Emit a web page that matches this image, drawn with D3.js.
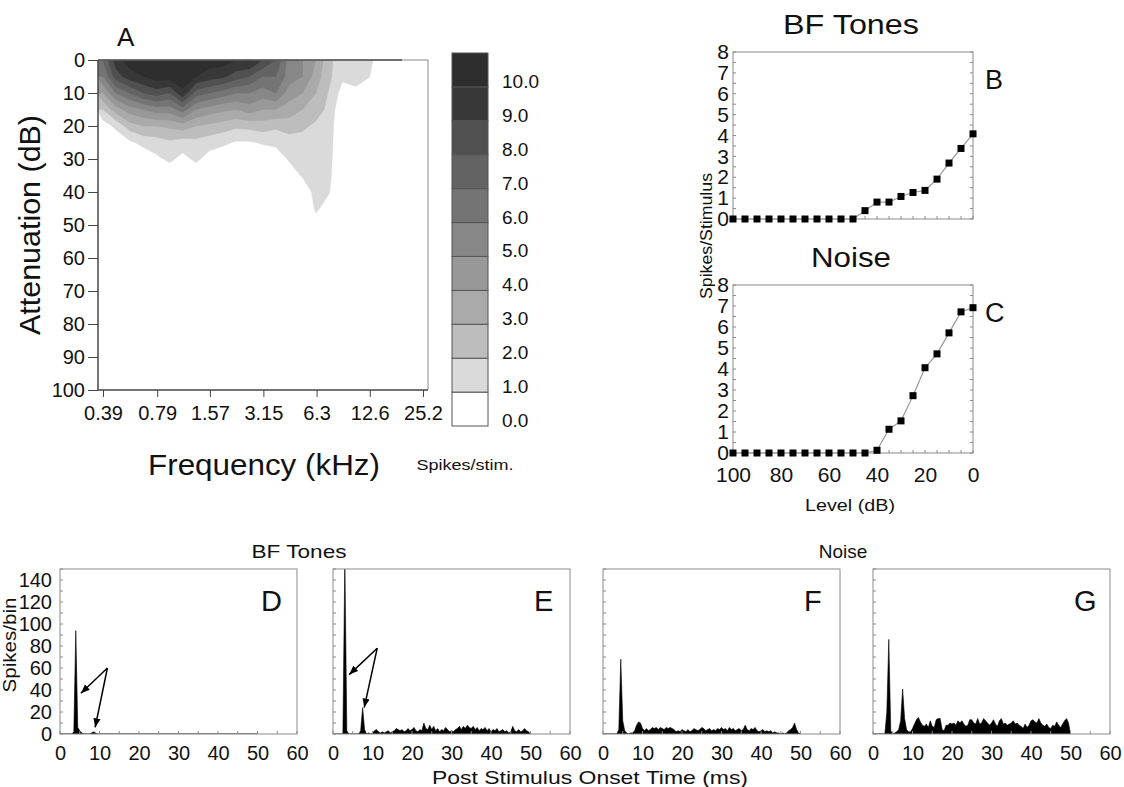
<!DOCTYPE html>
<html>
<head>
<meta charset="utf-8">
<script src="https://cdn.jsdelivr.net/npm/d3@7"></script>
<style>
  body { margin: 0; background: #fff; }
  svg { font-family: 'Liberation Sans', Arial, Helvetica, sans-serif; }
</style>
</head>
<body>
<svg id="fig" width="1124" height="787"></svg>
<script>
// ---------- data: panel A (response area) ----------
const freqTicks = [0.39, 0.79, 1.57, 3.15, 6.3, 12.6, 25.2];
const attenTicks = [0, 10, 20, 30, 40, 50, 60, 70, 80, 90, 100];
const gridFreqs = [0.39, 0.46, 0.55, 0.66, 0.78, 0.93, 1.10, 1.31, 1.56, 1.86, 2.21, 2.62,
                   3.12, 3.71, 4.41, 5.25, 6.24, 7.42, 8.82, 10.5, 12.5, 14.8, 17.6, 21.0];
const gridAttens = [0, 5, 10, 15, 20, 25, 30, 35, 40, 45, 50, 55, 60];
// spikes/stim for each frequency column, read down the attenuation rows
const spikeGrid = [
  [7, 6, 4, 2, 0.5, 0, 0, 0, 0, 0, 0, 0, 0],
  [9.5, 8.5, 6, 3.5, 1.2, 0.3, 0, 0, 0, 0, 0, 0, 0],
  [10.5, 9.5, 7, 4.5, 2.5, 0.8, 0, 0, 0, 0, 0, 0, 0],
  [11, 10, 8, 5, 3, 1.3, 0.3, 0, 0, 0, 0, 0, 0],
  [11, 10.5, 8.5, 5.5, 3, 1.5, 0.8, 0, 0, 0, 0, 0, 0],
  [11, 10.5, 8, 5.5, 3.2, 1.8, 1.2, 0.3, 0, 0, 0, 0, 0],
  [11, 10.5, 9.8, 6.5, 3.5, 1.5, 0.7, 0, 0, 0, 0, 0, 0],
  [11, 10, 7.5, 5, 3, 1.7, 1.2, 0.3, 0, 0, 0, 0, 0],
  [10.5, 9.5, 7, 4.5, 2.8, 1.4, 0.6, 0, 0, 0, 0, 0, 0],
  [10.5, 9.2, 6.5, 4.2, 2.5, 1.2, 0.3, 0, 0, 0, 0, 0, 0],
  [10, 8.5, 6, 4, 2.2, 0.9, 0.2, 0, 0, 0, 0, 0, 0],
  [10.2, 8, 6, 4.5, 2.3, 0.9, 0.2, 0, 0, 0, 0, 0, 0],
  [9, 7, 5.5, 4, 2.5, 1.1, 0.3, 0, 0, 0, 0, 0, 0],
  [8, 7, 6, 4, 2.2, 1.2, 0.5, 0, 0, 0, 0, 0, 0],
  [5.5, 5.5, 4.5, 3.5, 2.5, 1.5, 1.1, 0.5, 0, 0, 0, 0, 0],
  [5, 5, 4, 3, 2.2, 1.6, 1.4, 1.1, 0.4, 0, 0, 0, 0],
  [4, 3.5, 3, 2.5, 1.8, 1.5, 1.5, 1.4, 1.3, 1.15, 0.6, 0, 0],
  [2.2, 2.2, 1.9, 1.7, 1.5, 1.4, 1.3, 1.2, 1.05, 0.6, 0, 0, 0],
  [1.5, 1.2, 0.6, 0.1, 0, 0, 0, 0, 0, 0, 0, 0, 0],
  [1.6, 1.3, 0.8, 0.1, 0, 0, 0, 0, 0, 0, 0, 0, 0],
  [1.3, 1.05, 0.3, 0, 0, 0, 0, 0, 0, 0, 0, 0, 0],
  [0.3, 0, 0, 0, 0, 0, 0, 0, 0, 0, 0, 0, 0],
  [0, 0, 0, 0, 0, 0, 0, 0, 0, 0, 0, 0, 0],
  [0, 0, 0, 0, 0, 0, 0, 0, 0, 0, 0, 0, 0]
];
const colorLevels = [0, 1, 2, 3, 4, 5, 6, 7, 8, 9, 10];
const levelColors = ['#ffffff', '#dadada', '#bdbdbd', '#aaaaaa', '#989898', '#878787',
                     '#747474', '#636363', '#505050', '#383838', '#2e2e2e'];

// ---------- data: panels B and C (rate-level) ----------
const levels = [100, 95, 90, 85, 80, 75, 70, 65, 60, 55, 50, 45, 40, 35, 30, 25, 20, 15, 10, 5, 0];
const bfRate = [0, 0, 0, 0, 0, 0, 0, 0, 0, 0, 0, 0.4, 0.81, 0.81, 1.08, 1.27, 1.37, 1.91, 2.68, 3.38, 4.08];
const noiseRate = [0, 0, 0, 0, 0, 0, 0, 0, 0, 0, 0, 0, 0.13, 1.13, 1.53, 2.73, 4.06, 4.72, 5.72, 6.72, 6.92];

// ---------- data: panels D-G (PSTHs, 0.5 ms bins from 0 to 50 ms) ----------
const binWidth = 0.5;
const psthD = [0,0,0,0,0,0,0,2,94,6,3,1,0,0,0,0,1,2,1,0,
  0,0,0,0,0,0,0,0,0,0,0,0,0,0,0,0,0,0,0,0,
  0,0,0,0,0,0,0,0,0,0,0,0,0,0,0,0,0,0,0,0,
  0,0,0,0,0,0,0,0,0,0,0,0,0,0,0,0,0,0,0,0,
  0,0,0,0,0,0,0,0,0,0,0,0,0,0,0,0,0,0,0,0,0];
const psthE = [0,0,0,0,0,0,160,3,0,0,0,0,0,0,3,24,4,0,1,0,
  1,3,4,2,1,2,1,2,3,1,2,3,5,4,3,4,2,3,5,3,
  4,6,3,2,4,3,10,5,4,8,4,7,3,5,2,4,3,6,4,2,
  3,2,4,5,7,4,7,5,8,6,5,7,4,6,3,5,4,6,3,5,
  2,4,3,5,2,3,4,2,3,1,2,7,3,2,4,2,3,5,3,2,0];
const psthF = [0,0,0,0,0,0,0,0,4,68,12,3,1,0,1,1,3,8,11,10,
  5,3,5,3,4,6,5,6,4,6,5,4,6,5,6,5,4,2,3,2,
  4,3,2,4,2,3,5,4,3,4,6,5,3,4,5,3,4,3,5,4,
  6,4,5,3,6,4,5,3,4,5,3,4,8,4,3,5,4,6,3,2,
  3,4,2,3,2,3,1,2,1,1,0,1,0,1,3,4,6,10,4,1,0];
const psthG = [0,0,0,0,0,0,0,20,86,3,0,1,2,4,12,41,14,4,2,2,
  5,9,13,15,11,8,7,9,6,12,7,6,13,14,14,4,3,8,8,10,
  9,10,8,12,10,12,9,7,8,13,13,10,9,14,9,10,14,12,10,8,
  10,13,9,7,12,14,9,10,8,9,10,12,9,10,8,7,5,9,6,8,
  12,13,11,10,14,10,8,7,9,6,5,8,7,11,8,6,9,12,14,10,0];
// arrows: [fromTime, fromCount, toTime, toCount]
const arrowsD = [[12, 60, 5.3, 37], [12, 60, 8.9, 6]];
const arrowsE = [[11.2, 78, 4.1, 54], [11.2, 78, 7.9, 24]];

// ---------- drawing ----------
const svg = d3.select('#fig');
const font = "'Liberation Sans', Arial, Helvetica, sans-serif";
const defs = svg.append('defs');

defs.append('marker')
    .attr('id', 'arrow')
    .attr('viewBox', '0 0 10 10')
    .attr('refX', 10)
    .attr('refY', 5)
    .attr('markerWidth', 9)
    .attr('markerHeight', 9)
    .attr('markerUnits', 'userSpaceOnUse')
    .attr('orient', 'auto')
  .append('path')
    .attr('d', 'M0,1L10,5L0,9Z')
    .attr('fill', '#000');

function label(x, y, txt, size, opts = {}) {
  let t = svg.append('text')
      .attr('x', x)
      .attr('y', y)
      .attr('font-size', size)
      .attr('text-anchor', opts.anchor || 'middle')
      .attr('fill', '#111')
      .text(txt);
  if (opts.len) t.attr('textLength', opts.len).attr('lengthAdjust', 'spacingAndGlyphs');
  if (opts.rotate) t.attr('transform', `rotate(-90,${x},${y})`);
  return t;
}

// ----- Panel A -----
const A = {left: 98, right: 428, top: 60, bottom: 390};
const xA = d3.scaleLog().domain([0.39, 25.2]).range([103, 423]);
const yA = d3.scaleLinear().domain([0, 100]).range([A.top, A.bottom]);

defs.append('clipPath').attr('id', 'clipA').append('rect')
    .attr('x', A.left).attr('y', A.top)
    .attr('width', A.right - A.left).attr('height', A.bottom - A.top);

const nF = gridFreqs.length, nL = gridAttens.length;
const gridValues = [];
for (let j = 0; j < nL; j++)
  for (let i = 0; i < nF; i++) gridValues.push(spikeGrid[i][j]);

const colX = d3.scaleLinear().domain(d3.range(nF)).range(gridFreqs.map(f => xA(f)));
const rowY = d3.scaleLinear().domain(d3.range(nL)).range(gridAttens.map(a => yA(a)));
const contourPath = d3.geoPath(d3.geoTransform({
  point(x, y) { this.stream.point(colX(x - 0.5), rowY(y - 0.5)); }
}));
const bands = d3.contours().size([nF, nL]).thresholds(colorLevels.slice(1))(gridValues);

svg.append('g')
    .attr('clip-path', 'url(#clipA)')
  .selectAll('path')
  .data(bands)
  .join('path')
    .attr('d', contourPath)
    .attr('fill', d => levelColors[d.value])
    .attr('stroke', d => levelColors[d.value])
    .attr('stroke-width', 0.4);

// frame: dark top, light right, dark axes on left/bottom
svg.append('path')
    .attr('d', `M${A.left},${A.top}H${A.right}V${A.bottom}`)
    .attr('fill', 'none').attr('stroke', '#888').attr('stroke-width', 1);
svg.append('line')
    .attr('x1', A.left).attr('x2', 402).attr('y1', A.top).attr('y2', A.top)
    .attr('stroke', '#555').attr('stroke-width', 1.5);

let axA = svg.append('g')
    .attr('transform', `translate(${A.left},0)`)
    .call(d3.axisLeft(yA).tickValues(attenTicks).tickSize(10).tickPadding(3))
    .attr('font-family', font).attr('font-size', 20);
axA.select('.domain').remove();
axA.append('line').attr('y1', A.top).attr('y2', A.bottom).attr('stroke', '#444').attr('stroke-width', 1.5);
axA.selectAll('.tick line').attr('stroke', '#444');
axA.selectAll('.tick text').attr('fill', '#111');

let axAb = svg.append('g')
    .attr('transform', `translate(0,${A.bottom})`)
    .call(d3.axisBottom(xA).tickValues(freqTicks).tickFormat(d => d).tickSize(7).tickPadding(9))
    .attr('font-family', font).attr('font-size', 20);
axAb.select('.domain').remove();
axAb.append('line').attr('x1', A.left).attr('x2', A.right).attr('stroke', '#444').attr('stroke-width', 1.5);
axAb.selectAll('.tick line').attr('stroke', '#444');
axAb.selectAll('.tick text').attr('fill', '#111');

label(117, 46, 'A', 26, {anchor: 'start'});
label(40, 225, 'Attenuation (dB)', 30, {rotate: true, len: 220});
label(264, 475, 'Frequency (kHz)', 29, {len: 232});

// colour bar
const cb = {left: 452, right: 488, top: 53, bottom: 426};
const yCB = d3.scaleLinear().domain([0, 11]).range([cb.bottom, cb.top]);
svg.append('g')
  .selectAll('rect')
  .data(colorLevels)
  .join('rect')
    .attr('x', cb.left)
    .attr('y', d => yCB(d + 1))
    .attr('width', cb.right - cb.left)
    .attr('height', d => yCB(d) - yCB(d + 1))
    .attr('fill', d => levelColors[d])
    .attr('stroke', '#555')
    .attr('stroke-width', 1);
svg.append('g')
  .selectAll('text')
  .data(colorLevels)
  .join('text')
    .attr('x', 502)
    .attr('y', d => yCB(d) + 1)
    .attr('font-size', 19)
    .attr('fill', '#111')
    .text(d => d3.format('.1f')(d));
label(465, 470, 'Spikes/stim.', 15, {len: 97});

// ----- Panels B and C -----
const xL = d3.scaleLinear().domain([100, 0]).range([733, 973]);

function ratePanel(rates, top, bottom, title, letter, letterY, showX) {
  const y = d3.scaleLinear().domain([0, 8]).range([bottom, top]);
  const g = svg.append('g');
  g.append('rect')
      .attr('x', xL(100)).attr('y', top)
      .attr('width', xL(0) - xL(100)).attr('height', bottom - top)
      .attr('fill', 'none').attr('stroke', '#8a8a8a').attr('stroke-width', 1);
  // small inward ticks
  const minorY = d3.range(0, 8.01, 0.5);
  g.selectAll('.ml').data(minorY).join('line')
      .attr('x1', xL(100)).attr('x2', xL(100) + 3)
      .attr('y1', d => y(d)).attr('y2', d => y(d))
      .attr('stroke', '#8a8a8a');
  g.selectAll('.mr').data(minorY).join('line')
      .attr('x1', xL(0)).attr('x2', xL(0) - 3)
      .attr('y1', d => y(d)).attr('y2', d => y(d))
      .attr('stroke', '#8a8a8a');
  g.selectAll('.mb').data(levels).join('line')
      .attr('x1', d => xL(d)).attr('x2', d => xL(d))
      .attr('y1', bottom).attr('y2', bottom - 3)
      .attr('stroke', '#8a8a8a');

  const ay = g.append('g')
      .attr('transform', `translate(${xL(100)},0)`)
      .call(d3.axisLeft(y).ticks(8).tickSize(0).tickPadding(4))
      .attr('font-family', font).attr('font-size', 21);
  ay.select('.domain').remove();
  ay.selectAll('.tick text').attr('fill', '#111');

  if (showX) {
    const ax = g.append('g')
        .attr('transform', `translate(0,${bottom})`)
        .call(d3.axisBottom(xL).tickValues([100, 80, 60, 40, 20, 0]).tickSize(0).tickPadding(14))
        .attr('font-family', font).attr('font-size', 21);
    ax.select('.domain').remove();
    ax.selectAll('.tick text').attr('fill', '#111');
  }

  g.append('path')
      .datum(rates)
      .attr('d', d3.line().x((d, i) => xL(levels[i])).y(d => y(d)))
      .attr('fill', 'none')
      .attr('stroke', '#999')
      .attr('stroke-width', 1.2);
  g.selectAll('.pt').data(rates).join('rect')
      .attr('x', (d, i) => xL(levels[i]) - 3.5)
      .attr('y', d => y(d) - 3.5)
      .attr('width', 7).attr('height', 7)
      .attr('fill', '#000');

  label((xL(100) + xL(0)) / 2 - 2, top - 18, title, 27, {len: title === 'Noise' ? 80 : 136});
  label(985, letterY, letter, 27, {anchor: 'start'});
}

ratePanel(bfRate, 52, 219, 'BF Tones', 'B', 89, false);
ratePanel(noiseRate, 285, 453, 'Noise', 'C', 322, true);
label(850, 511, 'Level (dB)', 17, {len: 90});
label(712, 236, 'Spikes/Stimulus', 16, {rotate: true, len: 126});

// ----- Panels D-G -----
const P = {top: 569, bottom: 734, width: 237};
const yP = d3.scaleLinear().domain([0, 150]).range([P.bottom, P.top]);
const psthPanels = [
  {left: 60, counts: psthD, letter: 'D', arrows: arrowsD, yLabels: true},
  {left: 333, counts: psthE, letter: 'E', arrows: arrowsE, yLabels: false},
  {left: 603, counts: psthF, letter: 'F', arrows: [], yLabels: false},
  {left: 873, counts: psthG, letter: 'G', arrows: [], yLabels: false}
];

psthPanels.forEach((p, k) => {
  const x = d3.scaleLinear().domain([0, 60]).range([p.left, p.left + P.width]);
  const g = svg.append('g');
  const clipId = 'clipP' + k;
  defs.append('clipPath').attr('id', clipId).append('rect')
      .attr('x', p.left).attr('y', P.top)
      .attr('width', P.width).attr('height', P.bottom - P.top);

  g.append('path')
      .datum(p.counts)
      .attr('clip-path', `url(#${clipId})`)
      .attr('d', d3.area()
          .x((d, i) => x(i * binWidth))
          .y0(yP(0))
          .y1(d => yP(d)))
      .attr('fill', '#000')
      .attr('stroke', '#000')
      .attr('stroke-width', 0.6);

  g.append('rect')
      .attr('x', p.left).attr('y', P.top)
      .attr('width', P.width).attr('height', P.bottom - P.top)
      .attr('fill', 'none').attr('stroke', '#8a8a8a').attr('stroke-width', 1);
  g.selectAll('.ml').data(d3.range(0, 151, 10)).join('line')
      .attr('x1', p.left).attr('x2', p.left + 3)
      .attr('y1', d => yP(d)).attr('y2', d => yP(d))
      .attr('stroke', '#8a8a8a');
  g.selectAll('.mb').data(d3.range(0, 61, 5)).join('line')
      .attr('x1', d => x(d)).attr('x2', d => x(d))
      .attr('y1', P.bottom).attr('y2', P.bottom - 3)
      .attr('stroke', '#8a8a8a');

  if (p.yLabels) {
    const ay = g.append('g')
        .attr('transform', `translate(${p.left},0)`)
        .call(d3.axisLeft(yP).tickValues(d3.range(0, 141, 20)).tickSize(0).tickPadding(8))
        .attr('font-family', font).attr('font-size', 20);
    ay.select('.domain').remove();
    ay.selectAll('.tick text').attr('fill', '#111');
  }
  const ax = g.append('g')
      .attr('transform', `translate(0,${P.bottom})`)
      .call(d3.axisBottom(x).tickValues([0, 10, 20, 30, 40, 50, 60]).tickSize(0).tickPadding(12))
      .attr('font-family', font).attr('font-size', 20);
  ax.select('.domain').remove();
  ax.selectAll('.tick text').attr('fill', '#111');

  g.selectAll('.arr').data(p.arrows).join('line')
      .attr('x1', d => x(d[0])).attr('y1', d => yP(d[1]))
      .attr('x2', d => x(d[2])).attr('y2', d => yP(d[3]))
      .attr('stroke', '#000').attr('stroke-width', 1.5)
      .attr('marker-end', 'url(#arrow)');

  label(p.left + P.width - 36, 611, p.letter, 29, {anchor: 'start'});
});

label(16, 645, 'Spikes/bin', 18, {rotate: true, len: 95});
label(299, 558, 'BF Tones', 19, {len: 95});
label(843, 558, 'Noise', 19);
label(590, 784, 'Post Stimulus Onset Time (ms)', 19, {len: 316});
</script>
</body>
</html>
